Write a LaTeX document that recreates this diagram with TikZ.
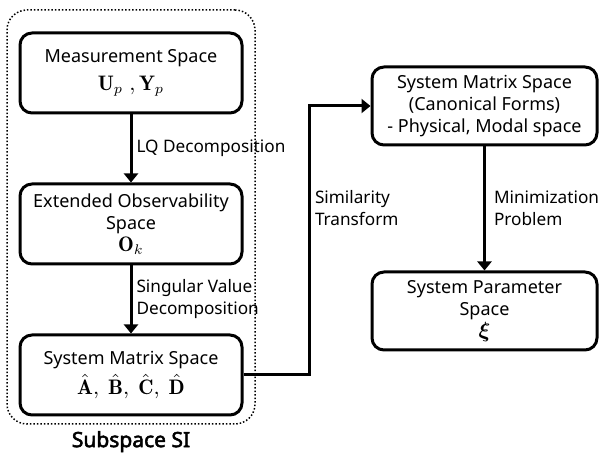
\documentclass[tikz,border=0pt]{standalone}
\usepackage{amsmath,amssymb}
\usepackage{fontspec}
\newfontfamily\boxfont{Noto Sans}[AutoFakeBold=2.5]
\usepackage{tikz}
\usetikzlibrary{
	positioning,
	arrows.meta,
	fit
}
\newcommand{\mathrow}[1]{{\fontsize{10.5}{12}\selectfont$#1$}}

\begin{document}
\begin{tikzpicture}[
			x=0.5pt,y=-0.5pt,
			node distance=34pt,
			block/.style={
				draw,
				line width=1.5pt,
				rounded corners=6pt,
				minimum width=111pt,
				minimum height=40pt,
				inner sep=2pt,
				align=center,
				font=\boxfont\fontsize{9}{11}\selectfont
			},
			lbl/.style={
				inner sep=2pt,
				align=left,
				font=\boxfont\fontsize{8.6}{11}\selectfont
			},
			arrow/.style={-{Triangle[width=7pt,length=4.5pt]},line width=1.5pt}
			]
			
			\useasboundingbox (0,0) rectangle (601,454);
			
			\node[block] (meas) at (131,73)
			{Measurement Space\\[3pt]\mathrow{\mathbf{U}_p\;,\mathbf{Y}_p}};
			
			\node[block,below=of meas] (obs)
			{Extended Observability\\Space\\\mathrow{\mathbf{O}_k}};
			
			\node[block,below=of obs] (sysm)
			{System Matrix Space\\[2pt]\mathrow{\hat{\mathbf{A}},\ \hat{\mathbf{B}},\ \hat{\mathbf{C}},\ \hat{\mathbf{D}}}};
			
			\node[block,minimum width=112.5pt,minimum height=39pt] (canon) at (484.5,106)
			{System Matrix Space\\(Canonical Forms)\\- Physical, Modal space};
			
			\node[block,minimum width=112.5pt,minimum height=39pt,below=62pt of canon] (param)
			{System Parameter\\Space\\\mathrow{\boldsymbol{\xi}}};
			
			% subspace SI group
			\coordinate (grptl) at (7,10);
			\coordinate (grpbr) at (255,424);
			\node[draw,densely dotted,line width=0.75pt,rounded corners=10pt,
				fit=(grptl)(grpbr),inner sep=0pt] (subsp) {};
			\node[below=1pt of subsp,inner sep=2pt,
				font=\boxfont\bfseries\fontsize{10.5}{12}\selectfont] (sublbl) {Subspace SI};
			
			\draw[arrow] (meas)--node[lbl,right]{LQ Decomposition}(obs);
			\draw[arrow] (obs)--node[lbl,right]{Singular Value\\Decomposition}(sysm);
			\draw[arrow] (sysm.east)--++(66,0)
				|- node[lbl,right,pos=0.31]{Similarity\\Transform}(canon.west);
			\draw[arrow] (canon)--node[lbl,right,xshift=2pt]{Minimization\\Problem}(param);
			
		\end{tikzpicture}
\end{document}
